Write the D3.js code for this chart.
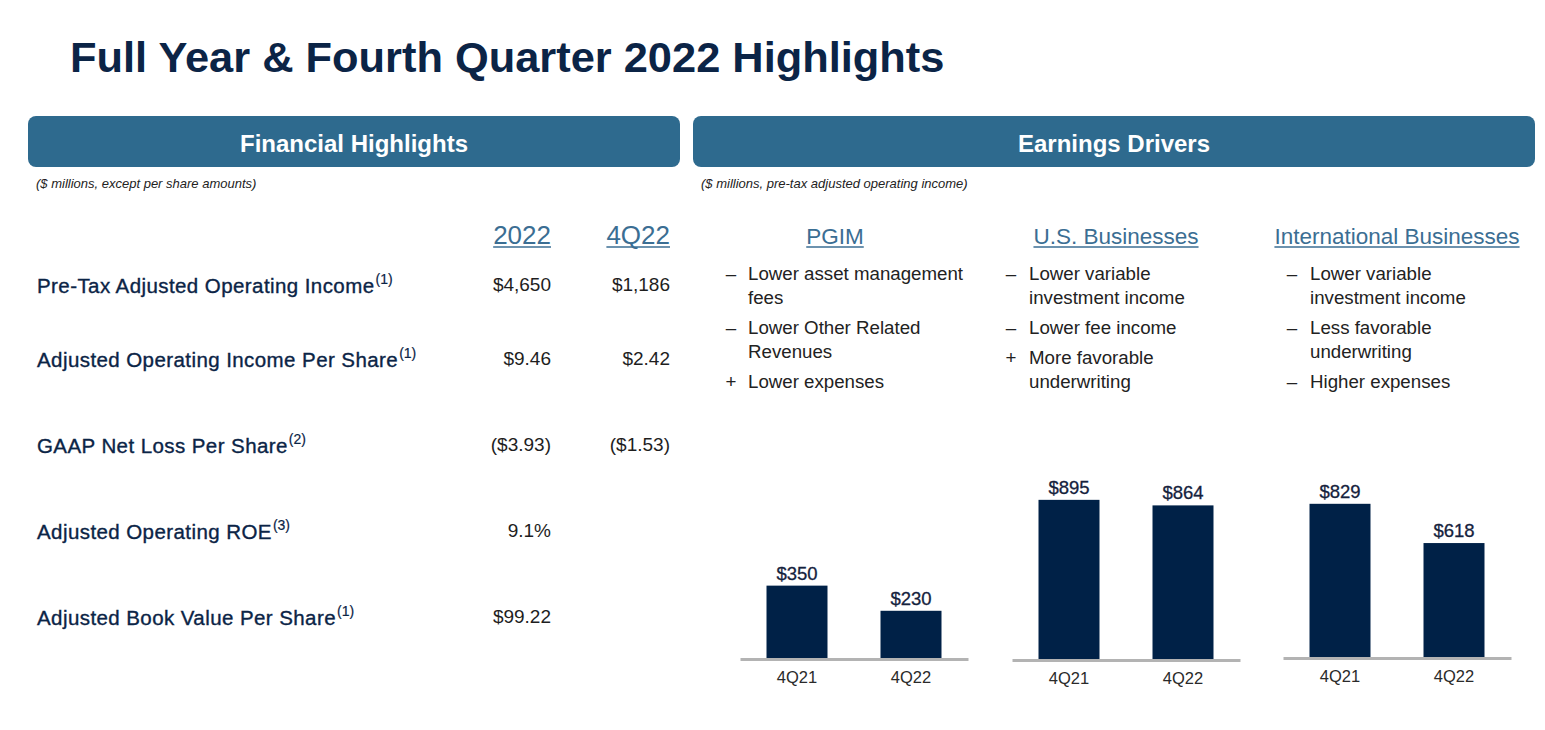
<!DOCTYPE html>
<html>
<head>
<meta charset="utf-8">
<script src="https://cdn.jsdelivr.net/npm/d3@7"></script>
<style>
  body { margin: 0; background: #fff; }
  svg { display: block; font-family: 'Liberation Sans', Arial, sans-serif; }
</style>
</head>
<body>
<svg id="chart"></svg>
<script>
// ---- data ----
const title = "Full Year & Fourth Quarter 2022 Highlights";
const panelTitles = ["Financial Highlights", "Earnings Drivers"];
const panelNotes = ["($ millions, except per share amounts)", "($ millions, pre-tax adjusted operating income)"];

const metricCols = ["2022", "4Q22"];
const metrics = ["Pre-Tax Adjusted Operating Income", "Adjusted Operating Income Per Share",
  "GAAP Net Loss Per Share", "Adjusted Operating ROE", "Adjusted Book Value Per Share"];
const metricNotes = ["(1)", "(1)", "(2)", "(3)", "(1)"];
const fullYear = ["$4,650", "$9.46", "($3.93)", "9.1%", "$99.22"];
const fourthQ = ["$1,186", "$2.42", "($1.53)", "", ""];

const segments = ["PGIM", "U.S. Businesses", "International Businesses"];
const pgimDrivers = [
  { sign: "–", lines: ["Lower asset management", "fees"] },
  { sign: "–", lines: ["Lower Other Related", "Revenues"] },
  { sign: "+", lines: ["Lower expenses"] }
];
const usDrivers = [
  { sign: "–", lines: ["Lower variable", "investment income"] },
  { sign: "–", lines: ["Lower fee income"] },
  { sign: "+", lines: ["More favorable", "underwriting"] }
];
const intlDrivers = [
  { sign: "–", lines: ["Lower variable", "investment income"] },
  { sign: "–", lines: ["Less favorable", "underwriting"] },
  { sign: "–", lines: ["Higher expenses"] }
];

const periods = ["4Q21", "4Q22"];
const pgimValues = [350, 230];
const usValues = [895, 864];
const intlValues = [829, 618];
const axisMax = [811, 950, 914];   // each mini chart has its own scale

// ---- layout ----
const W = 1545, H = 730;
const navy = "#0b2446", barColor = "#002147", boxColor = "#2e6a8e", headBlue = "#3b6e93";

const svg = d3.select("#chart").attr("width", W).attr("height", H);

// title
svg.append("text")
  .attr("x", 70).attr("y", 72)
  .attr("font-size", 43.4).attr("font-weight", "bold")
  .attr("fill", navy)
  .text(title);

// header boxes
const boxes = [{ x: 28, w: 652 }, { x: 693, w: 842 }];
boxes.forEach((b, i) => {
  svg.append("rect")
    .attr("x", b.x).attr("y", 116).attr("width", b.w).attr("height", 51)
    .attr("rx", 8).attr("fill", boxColor);
  svg.append("text")
    .attr("x", b.x + b.w / 2).attr("y", 152)
    .attr("text-anchor", "middle")
    .attr("font-size", 24).attr("font-weight", "bold")
    .attr("fill", "#fff")
    .text(panelTitles[i]);
  svg.append("text")
    .attr("x", b.x + 8).attr("y", 188)
    .attr("font-size", 13).attr("font-style", "italic")
    .attr("fill", "#222")
    .text(panelNotes[i]);
});

// underlined heading helper
function heading(x, y, txt, size, anchor) {
  const t = svg.append("text")
    .attr("x", x).attr("y", y)
    .attr("text-anchor", anchor)
    .attr("font-size", size)
    .attr("fill", headBlue)
    .text(txt);
  const bb = t.node().getBBox();
  svg.append("line")
    .attr("x1", bb.x).attr("x2", bb.x + bb.width)
    .attr("y1", y + 3).attr("y2", y + 3)
    .attr("stroke", headBlue).attr("stroke-width", 1.6);
}

// ---- financial highlights table ----
const colRight = [551, 670];
const rowY = [293, 367, 453, 539, 625];

metricCols.forEach((c, i) => heading(colRight[i], 244, c, 26, "end"));

const rows = svg.append("g");
metrics.forEach((m, i) => {
  const t = rows.append("text")
    .attr("x", 37).attr("y", rowY[i])
    .attr("font-size", 20.5)
    .attr("letter-spacing", 0.42)
    .attr("fill", navy)
    .attr("stroke", navy).attr("stroke-width", 0.35);
  t.append("tspan").text(m);
  t.append("tspan")
    .attr("dx", 1).attr("dy", -9)
    .attr("font-size", 14).attr("stroke-width", 0.2)
    .attr("letter-spacing", 0)
    .text(metricNotes[i]);

  [fullYear[i], fourthQ[i]].forEach((v, j) => {
    rows.append("text")
      .attr("x", colRight[j]).attr("y", rowY[i] - 2)
      .attr("text-anchor", "end")
      .attr("font-size", 19)
      .attr("fill", "#1e1e1e")
      .text(v);
  });
});

// ---- earnings drivers ----
const headX = [835, 1116, 1397];
const signX = [731, 1011, 1292];
const textX = [748, 1029, 1310];
const allDrivers = [pgimDrivers, usDrivers, intlDrivers];

segments.forEach((s, i) => {
  heading(headX[i], 244, s, 22.5, "middle");
  let y = 280;
  allDrivers[i].forEach((d, k) => {
    if (k > 0) y += 30;
    svg.append("text")
      .attr("x", signX[i]).attr("y", y)
      .attr("text-anchor", "middle")
      .attr("font-size", 18.7).attr("fill", "#222")
      .text(d.sign);
    d.lines.forEach((ln, l) => {
      if (l > 0) y += 24;
      svg.append("text")
        .attr("x", textX[i]).attr("y", y)
        .attr("font-size", 18.7).attr("fill", "#222")
        .text(ln);
    });
  });
});

// ---- mini bar charts ----
const panelX = [740, 1012, 1283];
const baseY = [659, 660, 658];
const panelW = 228, chartH = 170;
const allValues = [pgimValues, usValues, intlValues];

allValues.forEach((vals, i) => {
  const g = svg.append("g")
    .attr("transform", `translate(${panelX[i]},${baseY[i] - chartH})`);

  const x = d3.scaleBand()
    .domain(periods)
    .range([0, panelW])
    .paddingInner(0.465)
    .paddingOuter(0.2325);
  const y = d3.scaleLinear()
    .domain([0, axisMax[i]])
    .range([chartH, 0]);

  const data = periods.map((p, j) => ({ p: p, v: vals[j] }));

  g.selectAll("rect.bar")
    .data(data)
    .join("rect")
    .attr("class", "bar")
    .attr("x", d => x(d.p))
    .attr("y", d => y(d.v))
    .attr("width", x.bandwidth())
    .attr("height", d => chartH - y(d.v))
    .attr("fill", barColor);

  g.selectAll("text.val")
    .data(data)
    .join("text")
    .attr("class", "val")
    .attr("x", d => x(d.p) + x.bandwidth() / 2)
    .attr("y", d => y(d.v) - 6)
    .attr("text-anchor", "middle")
    .attr("font-size", 18.5)
    .attr("fill", "#15223d")
    .attr("stroke", "#15223d").attr("stroke-width", 0.3)
    .text(d => "$" + d3.format(",")(d.v));

  // baseline axis, no ticks
  const axis = g.append("g")
    .attr("transform", `translate(0,${chartH})`)
    .call(d3.axisBottom(x).tickSize(0).tickPadding(12));
  axis.select(".domain")
    .attr("stroke", "#b3b3b3").attr("stroke-width", 3);
  axis.selectAll("text")
    .attr("font-size", 16.5)
    .attr("font-family", "'Liberation Sans', Arial, sans-serif")
    .attr("fill", "#2a2a2a");
});
</script>
</body>
</html>
